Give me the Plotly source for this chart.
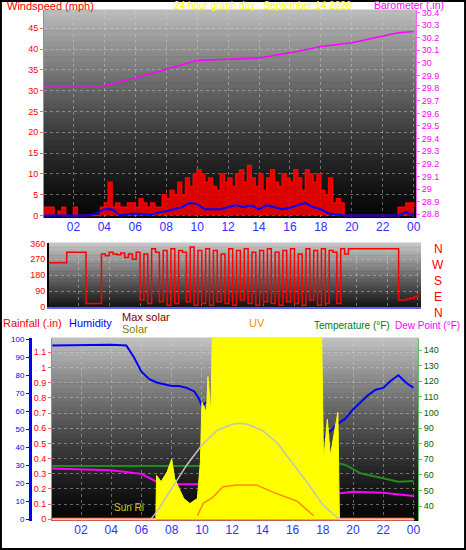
import plotly.graph_objects as go

# ---------------- data ----------------
gust_hours = [i * 0.25 for i in range(97)]
gust_mph = [2,2,2,0,1,2,0,0,2,0,0,0,0,0,0,2,
            3,8,2,3,2,2,3,3,2,4,3,2,3,2,2,5,
            4,6,5,8,5,9,7,10,11,10,8,9,7,6,10,8,
            9,7,10,11,8,12,9,7,10,6,9,11,8,7,10,9,
            8,11,9,6,11,10,8,10,6,5,9,3,4,3,0,0,
            0,0,0,0,0,0,0,0,0,0,0,0,2,2,3,3,
            2]
avg_hours = [i * 0.5 for i in range(49)]
avg_mph = [0,0,0,0,0,0,0,0.5,1.5,1.5,0,0.3,0.5,0.3,0.2,0.8,1,1.5,2,3,2.8,1.5,1.5,1.5,
           2,2.5,2,2.5,1.5,2.5,2,1.5,1.8,2.5,3,2,1.5,0.5,0.3,0,0,0,0,0,0,0,0,0.8,0]
baro_hours = [0.1,2,4,6,8,10,12,14,16,18,20,22,23,24]
baro_in = [29.82,29.82,29.82,29.88,29.95,30.02,30.03,30.04,30.08,30.13,30.16,30.21,30.24,30.25]

dir_hours = [i * 0.25 for i in range(97)]
dir_deg = [250,250,250,250,250,
           310,310,310,310,310,
           20,20,20,20,
           300,290,310,300,295,305,280,300,270,310,
           40,300,20,330,310,30,320,10,
           330,20,320,310,30,340,10,320,
           20,330,10,320,30,300,20,330,
           10,320,40,330,20,310,10,320,
           30,330,20,310,10,320,30,330,
           20,300,10,330,40,320,10,330,
           20,320,310,20,330,300,
           330,330,330,330,330,330,330,330,330,330,330,330,330,
           40,40,45,50,60,70]

hum_hours = [0.1,4,5,5.5,6,6.5,7,7.5,8,8.5,9,9.5,9.8,10,10.3,10.7,11,11.3,11.5,12,12.5,13,13.5,13.8,
             14,14.5,15,15.5,16,16.5,17,17.5,18,18.5,19,19.5,20,20.5,21,21.5,22,22.5,23,23.5,24]
hum_pct = [96.5,97,96.5,90,82,78,76,75,74,74,73,71,67,63,65,65,60,58,56,53,51,50,49,47,
           42,44,46,45,45,44,44,44,45,49,53,56,61,65,69,72,73,77,80,76,73]
temp_hours = [0.1,4,10,11,12,13.5,15,16,17,18.5,19.5,20.5,22,23,24]
temp_f = [65.6,65.6,65.6,67.4,71.6,74,74.8,74.8,74,68.4,66.3,61,57.7,55.6,56]
dew_hours = [0.1,4,6,7,8,10,11,13.5,14,15,16,17.5,19,20,22,24]
dew_f = [64.1,63,60.6,55.6,54,54,55,55,49.2,52.4,50.3,48.1,48.1,49.2,48.5,46.4]
rain_hours = [0.1, 24]
rain_in = [0, 0]
solar_hours = [0.1,6.95,7.0,7.3,7.7,8.0,8.2,8.5,8.8,9.2,9.7,9.9,10.0,10.3,10.4,10.6,10.7,17.9,
               18.05,18.3,18.5,18.8,19.0,19.1,24]
solar_wm2 = [0,0,242,208,262,333,224,169,115,87,115,317,645,590,787,590,1100,1100,
             317,552,350,497,590,0,0]
maxsolar_hours = [6.6,7,8,9,10,11,12,12.5,13,14,15,16,17,18,19,19.1]
maxsolar_wm2 = [0,40,170,300,410,490,525,530,525,490,420,310,200,80,5,0]
uv_hours = [9.7,10.1,10.7,11.4,12.3,13.6,14.7,16.3,17.4]
uv_index = [0.2,0.9,1.2,1.8,1.9,1.9,1.5,1.0,0.2]

tick_vals = list(range(2, 25, 2))
tick_text = ["02","04","06","08","10","12","14","16","18","20","22","00"]

FONT = "Liberation Sans"
fig = go.Figure()

fig.add_trace(go.Scatter(x=gust_hours, y=gust_mph, mode="lines", line=dict(color="#ff0000", width=1.5, shape="hv"),
                         fill="tozeroy", fillcolor="rgba(255,0,0,0.85)", xaxis="x", yaxis="y"))
fig.add_trace(go.Scatter(x=avg_hours, y=avg_mph, mode="lines", line=dict(color="#0000ff", width=2),
                         xaxis="x", yaxis="y"))
fig.add_trace(go.Scatter(x=baro_hours, y=baro_in, mode="lines", line=dict(color="#ff00ff", width=1.5),
                         xaxis="x", yaxis="y2"))
fig.add_trace(go.Scatter(x=dir_hours, y=dir_deg, mode="lines", line=dict(color="#ff0000", width=1.5, shape="hv"),
                         xaxis="x2", yaxis="y3"))
fig.add_trace(go.Scatter(x=solar_hours, y=solar_wm2, mode="lines", line=dict(color="#ffff00", width=1),
                         fill="tozeroy", fillcolor="#ffff00", xaxis="x3", yaxis="y7"))
fig.add_trace(go.Scatter(x=maxsolar_hours, y=maxsolar_wm2, mode="lines", line=dict(color="#c0c0c0", width=1.5),
                         xaxis="x3", yaxis="y7"))
fig.add_trace(go.Scatter(x=uv_hours, y=uv_index, mode="lines", line=dict(color="#ff8c00", width=1.5),
                         xaxis="x3", yaxis="y8"))
fig.add_trace(go.Scatter(x=rain_hours, y=rain_in, mode="lines", line=dict(color="#ff8080", width=3),
                         xaxis="x3", yaxis="y5"))
fig.add_trace(go.Scatter(x=temp_hours, y=temp_f, mode="lines", line=dict(color="#228b22", width=2),
                         xaxis="x3", yaxis="y6"))
fig.add_trace(go.Scatter(x=dew_hours, y=dew_f, mode="lines", line=dict(color="#ff00ff", width=2),
                         xaxis="x3", yaxis="y6"))
fig.add_trace(go.Scatter(x=hum_hours, y=hum_pct, mode="lines", line=dict(color="#0000ff", width=2),
                         xaxis="x3", yaxis="y4"))

grid = dict(showgrid=True, gridcolor="rgba(210,210,210,0.45)", griddash="dot", zeroline=False)

TOP = [1 - 218/550, 1 - 10/550]
DIR = [1 - 307/550, 1 - 243/550]
BOT = [1 - 521/550, 1 - 338/550]

fig.update_layout(
    width=466, height=550, margin=dict(l=0, r=0, t=0, b=0, autoexpand=False),
    paper_bgcolor="white", plot_bgcolor="#000000", showlegend=False,
    xaxis=dict(domain=[44/466, 416/466], range=[0.1, 24.15], anchor="y", tickvals=tick_vals, ticktext=tick_text,
               tickfont=dict(family=FONT, size=12, color="#3030ff"), ticks="", automargin=False, **grid),
    yaxis=dict(range=[-0.6, 49.4], dtick=5, domain=TOP, tickfont=dict(family=FONT, size=9, color="#ff0000"),
               ticks="outside", ticklen=3, tickcolor="#ff6060", showline=True, linecolor="#ff6060",
               automargin=False, **grid),
    yaxis2=dict(range=[28.77, 30.42], dtick=0.1, overlaying="y", side="right", showgrid=False, zeroline=False,
                tickfont=dict(family=FONT, size=9, color="#ff00ff"), ticks="outside", ticklen=3, tickcolor="#ff60ff",
                showline=True, linecolor="#ff60ff", anchor="x", automargin=False),
    xaxis2=dict(domain=[49/466, 421/466], range=[0.1, 24.2], anchor="y3", showticklabels=False,
                tickvals=tick_vals, showline=True, linecolor="#6060ff", linewidth=2, automargin=False, **grid),
    yaxis3=dict(domain=DIR, range=[0, 362], tickvals=[0, 90, 180, 270, 360], anchor="x2",
                tickfont=dict(family=FONT, size=9, color="#ff0000"), showline=True, linecolor="#000000",
                linewidth=2, automargin=False, **grid),
    xaxis3=dict(domain=[52/466, 418/466], range=[0.08, 24.3], anchor="y5", tickvals=tick_vals, ticktext=tick_text,
                tickfont=dict(family=FONT, size=12, color="#3030ff"), ticks="", automargin=False, **grid),
    yaxis4=dict(domain=BOT, range=[-0.94, 100.7], dtick=10, overlaying="y5", anchor="free", position=30/466,
                tickfont=dict(family=FONT, size=8, color="#0000ff"), showline=True, linecolor="#0000ff",
                linewidth=3, ticks="outside", tickcolor="#0000ff", ticklen=3, showgrid=False, zeroline=False,
                automargin=False),
    yaxis5=dict(domain=BOT, range=[-0.011, 1.194], dtick=0.1, anchor="x3",
                tickfont=dict(family=FONT, size=9, color="#ff0000"), showline=True, linecolor="#ff6060",
                ticks="outside", ticklen=3, tickcolor="#ff6060", automargin=False, **grid),
    yaxis6=dict(range=[30.4, 147.7], tickvals=[40,50,60,70,80,90,100,110,120,130,140], overlaying="y5",
                side="right", anchor="x3", tickfont=dict(family=FONT, size=9, color="#006400"),
                ticks="outside", ticklen=3, tickcolor="#60c060", showline=True, linecolor="#60c060",
                showgrid=False, zeroline=False, automargin=False),
    yaxis7=dict(range=[-9, 1000], overlaying="y5", visible=False, anchor="x3"),
    yaxis8=dict(range=[-0.09, 10], overlaying="y5", visible=False, anchor="x3"),
)

shapes = []
def gradient(xd, yd, top, bot, n=40, gamma=1.4):
    for k in range(n):
        t = (k + 0.5) / n
        f = t ** gamma
        c = [int(bot[i] + (top[i] - bot[i]) * f) for i in range(3)]
        shapes.append(dict(type="rect", xref="paper", yref="paper", x0=xd[0], x1=xd[1],
                           y0=yd[0] + (yd[1] - yd[0]) * k / n, y1=yd[0] + (yd[1] - yd[0]) * (k + 1) / n + 0.001,
                           fillcolor="rgb(%d,%d,%d)" % tuple(c), line=dict(width=0), layer="below"))
gradient([44/466, 416/466], TOP, (190, 190, 190), (8, 8, 8))
gradient([49/466, 421/466], DIR, (200, 200, 200), (20, 20, 20), gamma=1.0)
gradient([52/466, 418/466], BOT, (195, 195, 195), (8, 8, 8))
shapes.append(dict(type="rect", xref="paper", yref="paper", x0=0.002, x1=0.998, y0=0.002, y1=0.998,
                   line=dict(color="black", width=2)))
fig.update_layout(shapes=shapes)

def ann(text, x, y, color, size=10.5, anchor="left"):
    fig.add_annotation(text=text, x=x/466, y=1 - y/550, xref="paper", yref="paper", showarrow=False,
                       xanchor=anchor, yanchor="middle", font=dict(family=FONT, size=size, color=color))

ann("Windspeed (mph)", 5, 6, "#ff0000", 11)
ann("24 hour graph day : September 14 2026", 172, 6, "#ffff00", 10)
ann("Barometer (.in)", 372, 5, "#ff00ff", 10.5)
for lab, yy in zip(["N", "W", "S", "E", "N"], [249, 265, 281, 297, 313]):
    ann(lab, 438, yy, "#ff0000", size=12, anchor="center")
ann("Rainfall (.in)", 1, 323, "#ff0000", 11)
ann("Humidity", 67, 323, "#0000ff", 11)
ann("Max solar", 120, 317, "#800000", 11)
ann("Solar", 120, 329, "#808000", 11)
ann("UV", 247, 323, "#ff8c00", 11)
ann("Temperature (°F)", 312, 325, "#008000", 10)
ann("Dew Point (°F)", 393, 325, "#ff00ff", 10)
fig.add_annotation(text="Sun Ri", x=6.3, y=68, xref="x3", yref="y7", showarrow=False, xanchor="right",
                   font=dict(family=FONT, size=10, color="#c8c800"))

fig.write_html("out.html", config={"displayModeBar": False},
               post_script="document.body.style.margin='0';document.body.style.overflow='hidden';")
